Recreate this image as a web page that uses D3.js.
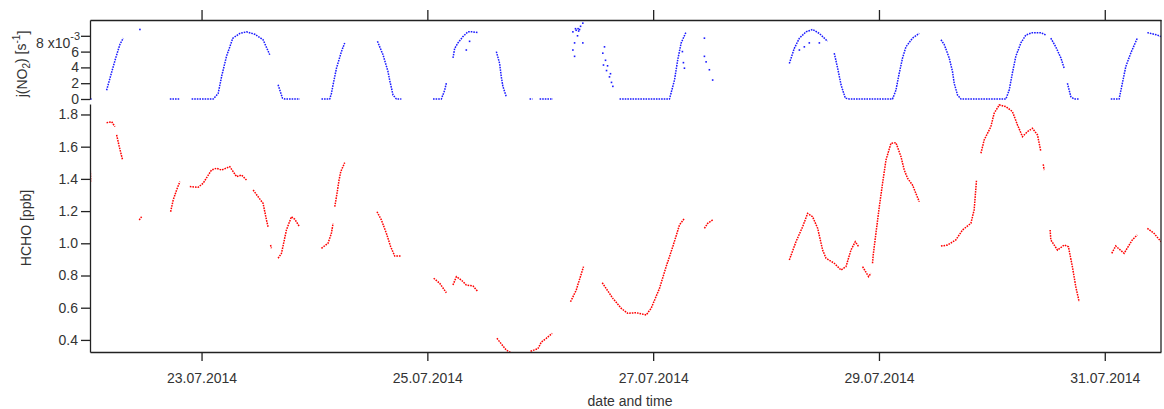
<!DOCTYPE html>
<html>
<head>
<meta charset="utf-8">
<script src="https://cdn.jsdelivr.net/npm/d3@7"></script>
<style>
  body { margin: 0; background: #fff; }
  svg { font-family: "Liberation Sans", Arial, sans-serif; }
  .axis text { font-size: 14px; fill: #333; }
  .axis path, .axis line { stroke: #222; stroke-width: 1.3; }
  .title { font-size: 14px; fill: #333; }
</style>
</head>
<body>
<div id="chart"></div>
<script>
// time is given as decimal day of July 2014 (e.g. 23.5 = 23.07.2014 12:00)
// j(NO2) in units of 10^-3 s^-1
var jno2Segments = [
  [[22.012,0],[22.029,0]],
  [[22.159,1.1],[22.206,3.5],[22.242,5.3],[22.277,6.9],[22.306,7.7]],
  [[22.719,0],[22.808,0]],
  [[22.912,0],[23.103,0],[23.147,0.7],[23.180,3.0],[23.221,5.4],[23.277,7.7],[23.339,8.3],[23.398,8.5],[23.472,8.2],[23.545,7.5],[23.604,5.6]],
  [[23.678,1.8],[23.717,0.1],[23.737,0],[23.870,0]],
  [[24.062,0],[24.135,0],[24.150,0.7],[24.165,1.8],[24.195,3.9],[24.218,5.0],[24.239,6.0],[24.268,7.1]],
  [[24.558,7.3],[24.607,5.6],[24.651,3.5],[24.666,2.4],[24.696,0.5],[24.726,0],[24.770,0]],
  [[25.050,0],[25.124,0],[25.153,1.1],[25.168,2.0]],
  [[25.227,5.2],[25.242,6.4],[25.271,7.1],[25.315,7.9],[25.359,8.5],[25.404,8.5],[25.448,8.4]],
  [[25.611,6.0],[25.640,4.5],[25.655,2.8],[25.669,1.6],[25.699,0.3]],
  [[25.905,0],[25.932,0]],
  [[25.994,0],[26.112,0]],
  [[26.702,0],[27.144,0],[27.150,0.3],[27.189,2.4],[27.218,5.0],[27.248,7.1],[27.292,8.5]],
  [[28.206,4.5],[28.250,6.4],[28.295,7.7],[28.354,8.5],[28.412,8.8],[28.472,8.3],[28.545,7.3]],
  [[28.604,5.8],[28.634,3.9],[28.664,1.8],[28.702,0.1],[28.737,0],[29.120,0],[29.150,1.1],[29.180,3.3],[29.209,5.2],[29.239,6.6],[29.297,7.7],[29.357,8.3]],
  [[29.549,7.5],[29.578,6.9],[29.622,5.2],[29.651,3.5],[29.666,2.0],[29.696,0.5],[29.726,0],[30.124,0],[30.153,1.1],[30.182,3.3],[30.212,5.4],[30.257,7.1],[30.301,8.1],[30.359,8.4],[30.434,8.4],[30.478,8.1]],
  [[30.522,7.7],[30.566,6.6],[30.611,5.2],[30.640,3.9]],
  [[30.669,2.0],[30.699,0.3],[30.728,0],[30.773,0]],
  [[31.053,0],[31.127,0],[31.156,2.0],[31.186,4.1],[31.230,5.8],[31.288,7.7]],
  [[31.377,8.4],[31.465,8.1],[31.498,7.9]]
];

// loose single j(NO2) points
var jno2Scatter = [
  [22.454,8.8],[25.345,6.2],[25.374,7.3],
  [26.289,8.5],[26.304,7.1],[26.289,6.2],[26.304,5.4],[26.312,8.9],[26.318,8.7],[26.330,8.0],
  [26.335,8.9],[26.340,8.6],[26.348,8.8],[26.357,9.2],[26.377,9.6],[26.377,7.1],
  [26.554,5.8],[26.560,4.3],[26.569,6.6],[26.578,4.9],[26.587,3.6],[26.596,4.2],
  [26.613,2.8],[26.622,3.2],[26.631,2.1],[26.643,1.6],
  [27.259,6.0],[27.268,4.6],[27.277,3.9],
  [27.454,7.7],[27.454,5.4],[27.469,4.7],[27.498,3.7],[27.527,2.4],
  [28.295,6.2],[28.339,6.6],[28.383,7.1],[28.472,7.1]
];

// HCHO in ppb
var hchoSegments = [
  [[22.012,1.486],[22.016,1.43],[22.018,1.383]],
  [[22.159,1.749],[22.204,1.755],[22.233,1.724]],
  [[22.248,1.673],[22.271,1.600],[22.301,1.517]],
  [[22.448,1.145],[22.469,1.165]],
  [[22.726,1.196],[22.749,1.269],[22.779,1.331],[22.808,1.383]],
  [[22.896,1.352],[22.970,1.348],[23.014,1.373],[23.088,1.455],[23.133,1.466],[23.177,1.455],[23.250,1.476],[23.280,1.445],[23.310,1.414],[23.354,1.424],[23.398,1.393]],
  [[23.457,1.331],[23.501,1.289],[23.545,1.248],[23.575,1.145],[23.589,1.103]],
  [[23.611,0.989],[23.619,0.969]],
  [[23.678,0.907],[23.708,0.938],[23.752,1.083],[23.796,1.165],[23.826,1.149],[23.864,1.107]],
  [[24.062,0.969],[24.120,1.0],[24.150,1.062],[24.165,1.124]],
  [[24.180,1.227],[24.200,1.311],[24.218,1.393],[24.233,1.445],[24.268,1.501]],
  [[24.554,1.196],[24.593,1.145],[24.637,1.062],[24.675,0.979],[24.711,0.921],[24.770,0.921]],
  [[25.056,0.783],[25.109,0.752],[25.168,0.693]],
  [[25.227,0.741],[25.257,0.793],[25.301,0.772],[25.345,0.741],[25.404,0.735],[25.448,0.700]],
  [[25.616,0.410],[25.699,0.337],[25.740,0.32]],
  [[25.914,0.33],[25.979,0.345],[26.009,0.386],[26.053,0.410],[26.106,0.441]],
  [[26.268,0.637],[26.319,0.710],[26.383,0.855]],
  [[26.549,0.755],[26.643,0.658],[26.717,0.596],[26.775,0.565],[26.850,0.569],[26.938,0.555],[26.982,0.596],[27.056,0.720],[27.115,0.855],[27.174,0.979],[27.233,1.114],[27.277,1.155]],
  [[27.454,1.093],[27.483,1.124],[27.527,1.145]],
  [[28.206,0.896],[28.265,1.010],[28.324,1.103],[28.368,1.186],[28.412,1.165],[28.457,1.093],[28.501,0.958],[28.531,0.907],[28.604,0.876],[28.664,0.834],[28.708,0.855],[28.752,0.958],[28.790,1.010],[28.820,0.979]],
  [[28.855,0.855],[28.908,0.793],[28.929,0.814]],
  [[28.943,0.876],[28.949,0.927],[28.973,1.062],[29.003,1.227],[29.032,1.373],[29.062,1.517],[29.106,1.621],[29.150,1.625],[29.195,1.538],[29.224,1.455],[29.253,1.404],[29.297,1.362],[29.357,1.258]],
  [[29.549,0.983],[29.607,0.989],[29.681,1.021],[29.740,1.083],[29.814,1.124],[29.843,1.207],[29.864,1.393]],
  [[29.903,1.559],[29.932,1.642],[29.991,1.724],[30.020,1.807],[30.065,1.859],[30.124,1.849],[30.182,1.818],[30.227,1.735],[30.271,1.662],[30.315,1.693],[30.359,1.714],[30.404,1.673],[30.434,1.569]],
  [[30.455,1.49],[30.463,1.455]],
  [[30.516,1.083],[30.522,1.021],[30.581,0.958],[30.640,0.989],[30.678,0.979],[30.713,0.855],[30.743,0.731],[30.773,0.637]],
  [[31.062,0.938],[31.097,0.983],[31.171,0.938],[31.244,1.021],[31.288,1.052]],
  [[31.377,1.093],[31.436,1.062],[31.498,1.010]]
];

var dateTicks = ["23.07.2014", "25.07.2014", "27.07.2014", "29.07.2014", "31.07.2014"];
var jno2Ticks = [0, 2, 4, 6, 8];
var hchoTicks = [0.4, 0.6, 0.8, 1.0, 1.2, 1.4, 1.6, 1.8];

var width = 1164;
var height = 409;
var left = 90;
var right = 1161;
var topY0 = 20, topY1 = 99;
var botY0 = 104, botY1 = 352;

var parseTick = d3.utcParse("%d.%m.%Y");
function toDate(day) {
    return new Date(Date.UTC(2014, 6, 1) + (day - 1) * 864e5);
}

var svg = d3.select("#chart")
    .append("svg")
    .attr("width", width)
    .attr("height", height);

var scaleX = d3.scaleUtc()
    .domain([toDate(22.012), toDate(31.498)])
    .range([left, right]);

var scaleYTop = d3.scaleLinear().domain([0, 10]).range([topY1, topY0]);
var scaleYBot = d3.scaleLinear().domain([0.325, 1.865]).range([botY1, botY0]);

// clip areas
var defs = svg.append("defs");
defs.append("clipPath").attr("id", "clipTop")
    .append("rect").attr("x", left).attr("y", topY0 - 1)
    .attr("width", right - left).attr("height", topY1 - topY0 + 3);
defs.append("clipPath").attr("id", "clipBot")
    .append("rect").attr("x", left).attr("y", botY0)
    .attr("width", right - left).attr("height", botY1 - botY0);

function drawSeries(segments, scaleY, color, clip) {
    var line = d3.line()
        .x(function(d){ return scaleX(toDate(d[0])); })
        .y(function(d){ return scaleY(d[1]); });
    var g = svg.append("g").attr("clip-path", "url(#" + clip + ")");
    g.selectAll("path")
        .data(segments.filter(function(s){ return s.length > 1; }))
        .enter().append("path")
        .attr("d", line)
        .attr("fill", "none")
        .attr("stroke", color)
        .attr("stroke-width", 1.5)
        .attr("stroke-dasharray", "1.6 1");
    return g;
}

drawSeries(jno2Segments, scaleYTop, "#1a1aff", "clipTop")
    .selectAll("rect")
    .data(jno2Scatter)
    .enter().append("rect")
    .attr("x", function(d){ return scaleX(toDate(d[0])) - 0.8; })
    .attr("y", function(d){ return scaleYTop(d[1]) - 0.8; })
    .attr("width", 1.6)
    .attr("height", 1.6)
    .attr("fill", "#1a1aff");

drawSeries(hchoSegments, scaleYBot, "#ff0000", "clipBot");

// x axes
var tickDates = dateTicks.map(function(t){ return parseTick(t); });

svg.append("g")
    .attr("class", "axis")
    .attr("transform", "translate(0," + botY1 + ")")
    .call(d3.axisBottom(scaleX)
        .tickValues(tickDates)
        .tickSize(9)
        .tickSizeOuter(0)
        .tickPadding(12)
        .tickFormat(d3.utcFormat("%d.%m.%Y")));

svg.append("g")
    .attr("class", "axis")
    .attr("transform", "translate(0," + topY0 + ")")
    .call(d3.axisTop(scaleX)
        .tickValues(tickDates)
        .tickSize(10)
        .tickSizeOuter(0)
        .tickFormat(""));

// right border
svg.append("line")
    .attr("x1", right).attr("x2", right)
    .attr("y1", topY0).attr("y2", botY1)
    .attr("stroke", "#222")
    .attr("stroke-width", 1.3);

// y axes
var yTop = svg.append("g")
    .attr("class", "axis")
    .attr("transform", "translate(" + left + ",0)")
    .call(d3.axisLeft(scaleYTop)
        .tickValues(jno2Ticks)
        .tickSize(9)
        .tickSizeOuter(0)
        .tickPadding(2)
        .tickFormat(d3.format("d")));

yTop.selectAll(".tick text")
    .filter(function(d){ return d === 8; })
    .text(null)
    .attr("x", -10)
    .attr("dy", "0.85em")
    .call(function(t){
        t.append("tspan").text("8 x10");
        t.append("tspan").attr("dy", "-0.75em").attr("font-size", "11px").text("-3");
    });

svg.append("g")
    .attr("class", "axis")
    .attr("transform", "translate(" + left + ",0)")
    .call(d3.axisLeft(scaleYBot)
        .tickValues(hchoTicks)
        .tickSize(9)
        .tickSizeOuter(0)
        .tickPadding(3)
        .tickFormat(d3.format(".1f")));

// titles
var jTitle = svg.append("text")
    .attr("class", "title")
    .attr("text-anchor", "middle")
    .attr("transform", "translate(27,64)rotate(-90)");
jTitle.append("tspan").text("j(NO");
jTitle.append("tspan").attr("font-size", "10px").attr("dy", "0.3em").text("2");
jTitle.append("tspan").attr("dy", "-0.3em").text(") [s");
jTitle.append("tspan").attr("font-size", "10px").attr("dy", "-0.6em").text("-1");
jTitle.append("tspan").attr("dy", "0.6em").text("]");

svg.append("text")
    .attr("class", "title")
    .attr("text-anchor", "middle")
    .attr("transform", "translate(31,228)rotate(-90)")
    .text("HCHO [ppb]");

svg.append("text")
    .attr("class", "title")
    .attr("text-anchor", "middle")
    .attr("x", 630)
    .attr("y", 406)
    .text("date and time");
</script>
</body>
</html>
